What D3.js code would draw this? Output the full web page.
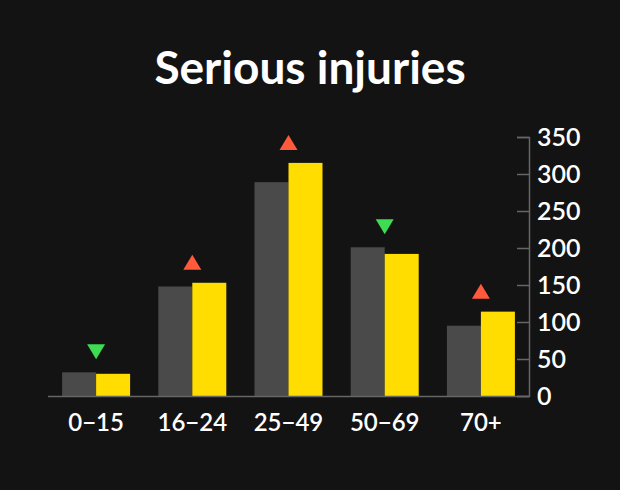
<!DOCTYPE html>
<html><head><meta charset="utf-8">
<script src="https://cdn.jsdelivr.net/npm/d3@7"></script>
<style>body{margin:0;background:#131313;}svg{display:block;font-family:Lato,"Open Sans",sans-serif;}</style>
</head><body><svg width="620" height="490"></svg>
<script>
const categories = ["0−15","16−24","25−49","50−69","70+"];
const previous = [32,148,289,201,95];
const current = [30,153,315,192,114];
const change = ["down","up","up","down","up"];
const yTicks = [0,50,100,150,200,250,300,350];

const svg = d3.select("svg");
svg.append("rect").attr("width",620).attr("height",490).attr("fill","#131313");
svg.append("text").attr("x",310).attr("y",84).attr("text-anchor","middle")
  .attr("fill","#fff").attr("font-size",46).attr("font-weight",700).text("Serious injuries");

const x = d3.scaleBand().domain(categories).range([48,529]);
const y = d3.scaleLinear().domain([0,350]).range([396,137]);
const bw = 34;

const g = svg.append("g");
categories.forEach((c,i)=>{
  const cx = x(c)+x.bandwidth()/2;
  g.append("rect").attr("x",cx-bw).attr("width",bw).attr("y",y(previous[i])).attr("height",y(0)-y(previous[i])).attr("fill","#4a4a4a");
  g.append("rect").attr("x",cx).attr("width",bw).attr("y",y(current[i])).attr("height",y(0)-y(current[i])).attr("fill","#ffdd00");
  const top = y(Math.max(previous[i],current[i])) - 13;
  const up = change[i]==="up";
  const path = up ? `M${cx-9},${top} L${cx+9},${top} L${cx},${top-15} Z`
                  : `M${cx-9},${top-15} L${cx+9},${top-15} L${cx},${top} Z`;
  g.append("path").attr("d",path).attr("fill", up?"#ff5a3c":"#3ddc52");
});

svg.append("line").attr("x1",48).attr("x2",529).attr("y1",396.5).attr("y2",396.5).attr("stroke","#666").attr("stroke-width",1.5);
categories.forEach(c=>{
  svg.append("text").attr("x",x(c)+x.bandwidth()/2).attr("y",431).attr("text-anchor","middle")
    .attr("fill","#fff").attr("font-size",24).attr("font-weight",600).text(c);
});
const ya = svg.append("g").attr("transform","translate(529,0)")
  .call(d3.axisRight(y).tickValues(yTicks).tickSize(-12).tickPadding(8));
ya.select(".domain").attr("stroke","#666").attr("stroke-width",1.5);
ya.selectAll(".tick line").attr("stroke","#666").attr("stroke-width",1.5);
ya.selectAll(".tick text").attr("fill","#fff").attr("font-size",25).attr("font-weight",600).attr("font-family","Lato,sans-serif");
</script></body></html>
